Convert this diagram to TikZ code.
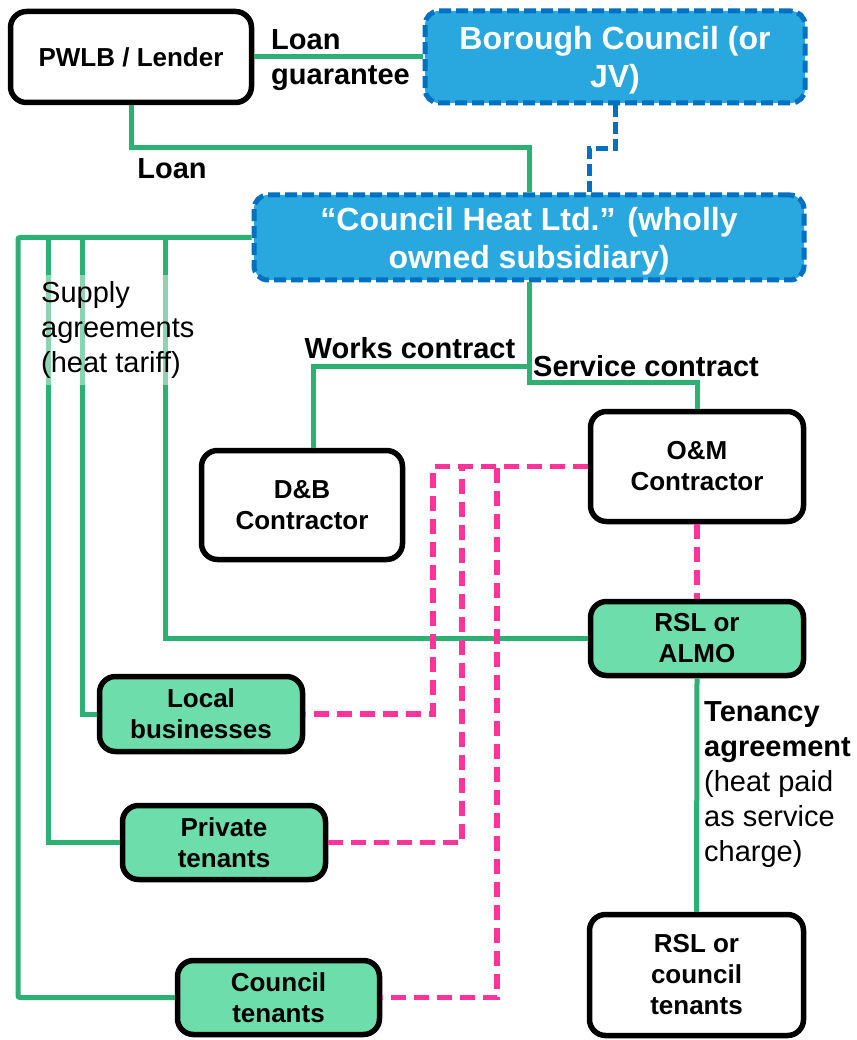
\documentclass[tikz,border=0pt]{standalone}
\usepackage{fontspec}
\setmainfont{Liberation Sans}
\begin{document}
\definecolor{lnkgreen}{RGB}{44,176,116}
\definecolor{boxgreen}{RGB}{109,221,171}
\definecolor{pinkln}{RGB}{255,51,153}
\definecolor{bluefill}{RGB}{41,168,224}
\definecolor{blueedge}{RGB}{0,112,192}
% lower a centred two-line block without changing its box size
\newcommand{\lowered}[3]{\raisebox{-#1}[\height][\depth]{\parbox{#2}{\centering #3}}}
\begin{tikzpicture}[x=1pt,y=-1pt,
  box/.style={draw=black,line width=5.5pt,rounded corners=16pt,fill=white,
    align=center,inner sep=0pt,font={\fontsize{26}{31}\selectfont\bfseries}},
  greenbox/.style={box,fill=boxgreen},
  bluebox/.style={draw=blueedge,line width=5pt,dash pattern=on 12pt off 5pt,
    rounded corners=14pt,fill=bluefill,text=white,align=center,inner sep=0pt,
    font={\fontsize{32}{38}\selectfont\bfseries}},
  gline/.style={draw=lnkgreen,line width=5pt},
  pline/.style={draw=pinkln,line width=5.5pt,dash pattern=on 15pt off 8pt},
  bline/.style={draw=blueedge,line width=5pt,dash pattern=on 12pt off 5pt},
  lbl/.style={inner sep=0pt,font={\fontsize{29}{35}\selectfont\bfseries}},
  lblreg/.style={inner sep=0pt,font={\fontsize{29}{35}\selectfont}}]
\useasboundingbox (0,0) rectangle (856,1040);
\fill[white] (0,0) rectangle (856,1040);

% organisations
\node[box,minimum width=241,minimum height=91] (pwlb) at (131,57) {PWLB / Lender};
\node[bluebox,minimum width=380,minimum height=92] (boro) at (615,57) {\lowered{3pt}{360pt}{Borough Council (or\\JV)}};
\node[bluebox,minimum width=550,minimum height=85] (cht) at (529,237.5) {\lowered{4pt}{530pt}{“Council Heat Ltd.” (wholly\\owned subsidiary)}};
\node[box,minimum width=201,minimum height=109] (db) at (302,505) {D\&B\\Contractor};
\node[box,minimum width=213,minimum height=110] (om) at (697,466.5) {O\&M\\Contractor};
\node[greenbox,minimum width=213,minimum height=74] (ra) at (697,638.5) {RSL or\\ALMO};
\node[greenbox,minimum width=203,minimum height=75] (lb) at (201,714) {Local\\businesses};
\node[greenbox,minimum width=203,minimum height=74] (pt) at (224,842.5) {Private\\tenants};
\node[greenbox,minimum width=202,minimum height=74] (ct) at (278.5,997.5) {Council\\tenants};
\node[box,minimum width=214,minimum height=121] (rc) at (696.5,975) {RSL or\\council\\tenants};

% routing points
\coordinate (lnk) at (0,148);
\coordinate (bk) at (589,149);
\coordinate (sv) at (529,382);
\coordinate (wk) at (529,366);
\coordinate (wk2) at (313,366);
\coordinate (s1) at (18,0);
\coordinate (s2) at (48,0);
\coordinate (s3) at (82,0);
\coordinate (s4) at (165,0);
\coordinate (k1) at (433,0);
\coordinate (k2) at (462,0);
\coordinate (k3) at (497,0);

% finance and ownership
\draw[gline] (pwlb.east) -- (boro.west);
\draw[gline] (pwlb.south) -- (pwlb.south |- lnk) -| (cht.north);
\draw[bline] (boro.south) |- (bk) -- (bk |- cht.north);

% contracts
\draw[gline] (cht.south) -- (sv) -| (om.north);
\draw[gline] (wk) -- (wk2) -- (wk2 |- db.north);

% supply agreements
\draw[gline,rounded corners=2pt] (cht.west) -| (s1 |- ct.west) -- (ct.west);
\draw[gline] (s2 |- cht.west) |- (pt.west);
\draw[gline] (s3 |- cht.west) |- (lb.west);
\draw[gline] (s4 |- cht.west) |- (ra.west);

% O&M service links
\draw[pline] (om.west) -- (k1 |- om.west) |- (lb.east);
\draw[pline] (om.west) -- (k2 |- om.west) |- (pt.east);
\draw[pline] (om.west) -- (k3 |- om.west) |- (ct.east);
\draw[pline] (om.south) -- (ra.north);

% tenancy
\draw[gline] (ra.south) -- (rc.north);

% labels
\node[lbl,anchor=west,align=left] (lg) at (271,60) {Loan\\guarantee};
\node[lbl] (ln) at (172,169) {Loan};
\node[lbl] (wc) at (410,348) {Works contract};
\node[lbl] (sc) at (646,366) {Service contract};
\node[lblreg,anchor=west,align=left,fill=white,fill opacity=0.45,text opacity=1,
  inner xsep=1pt,inner ysep=6pt] (sa) at (40,330) {Supply\\agreements\\(heat tariff)};
\node[lblreg,anchor=west,align=left] (ta) at (704,785)
  {\textbf{Tenancy}\\\textbf{agreement}\\(heat paid\\as service\\charge)};
\end{tikzpicture}
\end{document}
